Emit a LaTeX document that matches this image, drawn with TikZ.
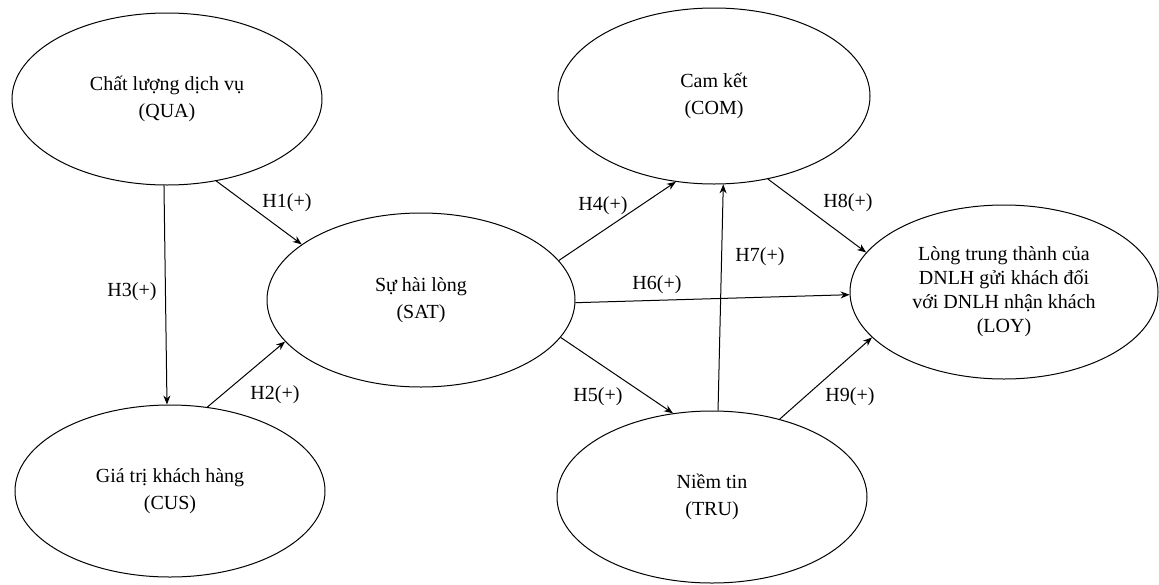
\documentclass[tikz,border=0pt]{standalone}
\usepackage{fontspec}
\setmainfont{Liberation Serif}
\usetikzlibrary{shapes.geometric,arrows.meta}
\begin{document}
\begin{tikzpicture}[x=1pt,y=-1pt,
  ell/.style={draw, ellipse, line width=1pt, inner sep=0pt, align=center, font=\fontsize{20}{27}\selectfont},
  arr/.style={draw, line width=1pt, -{Stealth[length=9pt,width=7pt]}},
  lbl/.style={font=\fontsize{20}{24}\selectfont, inner sep=0pt}]
\useasboundingbox (0,0) rectangle (1159,584);
\node[ell, minimum width=310pt, minimum height=172pt] (QUA) at (167,99) {Chất lượng dịch vụ\\(QUA)};
\node[ell, minimum width=310pt, minimum height=172pt] (CUS) at (170,491) {Giá trị khách hàng\\(CUS)};
\node[ell, minimum width=308pt, minimum height=174pt] (SAT) at (421,300) {Sự hài lòng\\(SAT)};
\node[ell, minimum width=312pt, minimum height=176pt] (COM) at (714,96) {Cam kết\\(COM)};
\node[ell, minimum width=310pt, minimum height=172pt] (TRU) at (712,497) {Niềm tin\\(TRU)};
\node[ell, minimum width=308pt, minimum height=174pt, font=\fontsize{20}{24}\selectfont] (LOY) at (1004,292) {Lòng trung thành của\\DNLH gửi khách đối\\với DNLH nhận khách\\(LOY)};

\draw[arr] (QUA.-59) -- (SAT.155);
\draw[arr] (QUA.-92) -- (CUS.92);
\draw[arr] (CUS.66) -- (SAT.197);
\draw[arr] (SAT.16) -- (COM.246);
\draw[arr] (SAT.-15) -- (TRU.115);
\draw[arr] (SAT.-1) -- (LOY.181.5);
\draw[arr] (TRU.86) -- (COM.-84.5);
\draw[arr] (COM.-57) -- (LOY.164);
\draw[arr] (TRU.49) -- (LOY.199);

\node[lbl] (h1) at (287,203) {H1(+)};
\node[lbl] (h2) at (275,395) {H2(+)};
\node[lbl] (h3) at (132,292) {H3(+)};
\node[lbl] (h4) at (603,206) {H4(+)};
\node[lbl] (h5) at (598,397) {H5(+)};
\node[lbl] (h6) at (657,285) {H6(+)};
\node[lbl] (h7) at (760,257) {H7(+)};
\node[lbl] (h8) at (848,203) {H8(+)};
\node[lbl] (h9) at (850,397) {H9(+)};
\end{tikzpicture}
\end{document}
